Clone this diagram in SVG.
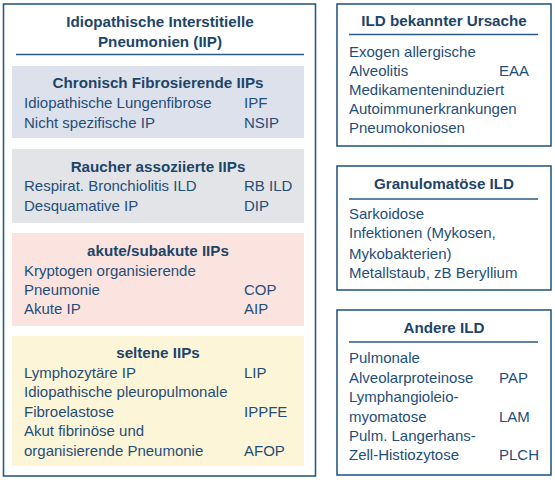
<svg xmlns="http://www.w3.org/2000/svg" width="555" height="480" viewBox="0 0 555 480">
<style>
.box{fill:#fff;stroke:#2a5a82;stroke-width:1.6}
.rule{stroke:#2a5a82;stroke-width:1.6}
text{font-family:"Liberation Sans",Arial,sans-serif;font-size:15px;fill:#1f4e78}
.h{font-weight:bold;text-anchor:middle;font-size:15.2px;fill:#1d4568}
</style>
<rect width="555" height="480" fill="#fff"/>
<g id="iip">
<rect class="box" x="3.5" y="4" width="312" height="472"/>
<text class="h" x="160" y="27">Idiopathische Interstitielle</text>
<text class="h" x="160" y="47">Pneumonien (IIP)</text>
<line class="rule" x1="16" y1="54.5" x2="304" y2="54.5"/>
</g>
<g id="chronisch">
<rect x="12" y="66" width="292" height="72" fill="#dde1ec"/>
<text class="h" x="158" y="88">Chronisch Fibrosierende IIPs</text>
<text x="24" y="108">Idiopathische Lungenfibrose</text><text x="244" y="108">IPF</text>
<text x="24" y="128">Nicht spezifische IP</text><text x="244" y="128">NSIP</text>
</g>
<g id="raucher">
<rect x="12" y="149" width="292" height="74" fill="#e3e4e8"/>
<text class="h" x="158" y="172">Raucher assoziierte IIPs</text>
<text x="24" y="191">Respirat. Bronchiolitis ILD</text><text x="244" y="191">RB ILD</text>
<text x="24" y="211">Desquamative IP</text><text x="244" y="211">DIP</text>
</g>
<g id="akut">
<rect x="12" y="233" width="292" height="93" fill="#fbe4e0"/>
<text class="h" x="158" y="256">akute/subakute IIPs</text>
<text x="24" y="276">Kryptogen organisierende</text>
<text x="24" y="295">Pneumonie</text><text x="244" y="295">COP</text>
<text x="24" y="314">Akute IP</text><text x="244" y="314">AIP</text>
</g>
<g id="selten">
<rect x="12" y="336" width="292" height="130" fill="#fdf5d8"/>
<text class="h" x="158" y="358">seltene IIPs</text>
<text x="24" y="378">Lymphozytäre IP</text><text x="244" y="378">LIP</text>
<text x="24" y="397">Idiopathische pleuropulmonale</text>
<text x="24" y="417">Fibroelastose</text><text x="244" y="417">IPPFE</text>
<text x="24" y="436">Akut fibrinöse und</text>
<text x="24" y="456">organisierende Pneumonie</text><text x="244" y="456">AFOP</text>
</g>
<g id="bekannt">
<rect class="box" x="337" y="4" width="214" height="142"/>
<text class="h" x="444" y="26">ILD bekannter Ursache</text>
<line class="rule" x1="349" y1="34.5" x2="538" y2="34.5"/>
<text x="349" y="57">Exogen allergische</text>
<text x="349" y="76">Alveolitis</text><text x="499" y="76">EAA</text>
<text x="349" y="95">Medikamenteninduziert</text>
<text x="349" y="114">Autoimmunerkrankungen</text>
<text x="349" y="133">Pneumokoniosen</text>
</g>
<g id="granulomatoes">
<rect class="box" x="337" y="166" width="214" height="124"/>
<text class="h" x="444" y="189">Granulomatöse ILD</text>
<line class="rule" x1="349" y1="199" x2="538" y2="199"/>
<text x="349" y="219">Sarkoidose</text>
<text x="349" y="238">Infektionen (Mykosen,</text>
<text x="349" y="259">Mykobakterien)</text>
<text x="349" y="278">Metallstaub, zB Beryllium</text>
</g>
<g id="andere">
<rect class="box" x="337" y="310" width="214" height="165"/>
<text class="h" x="444" y="333">Andere ILD</text>
<line class="rule" x1="349" y1="342" x2="538" y2="342"/>
<text x="349" y="363">Pulmonale</text>
<text x="349" y="383">Alveolarproteinose</text><text x="499" y="383">PAP</text>
<text x="349" y="402">Lymphangioleio-</text>
<text x="349" y="422">myomatose</text><text x="499" y="422">LAM</text>
<text x="349" y="441">Pulm. Langerhans-</text>
<text x="349" y="460">Zell-Histiozytose</text><text x="499" y="460">PLCH</text>
</g>
<g id="connectors"/>
</svg>
